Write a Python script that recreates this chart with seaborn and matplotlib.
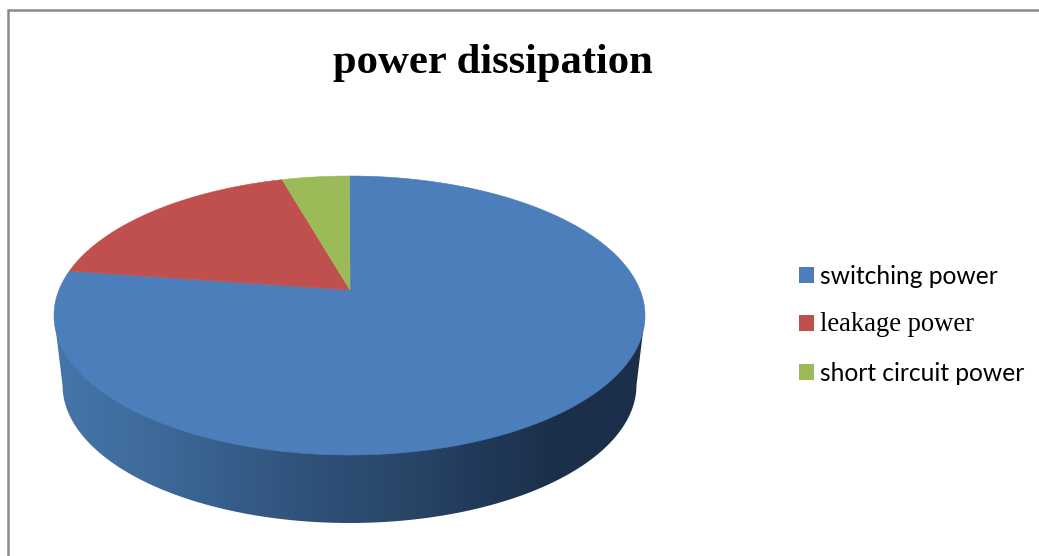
import numpy as np
import matplotlib
matplotlib.use("Agg")
import matplotlib.pyplot as plt
from matplotlib.colors import LinearSegmentedColormap
from matplotlib.patches import Patch, Polygon
import seaborn as sns

# Share of total power per source, clockwise from twelve o'clock
categories = ["switching power", "leakage power", "short circuit power"]
shares = [77.3, 18.3, 4.4]
label_fonts = ["Lato", "Liberation Serif", "Lato"]
label_sizes = [17.7, 19.2, 17.7]
slice_colors = sns.color_palette(["#4c7ebb", "#c0504d", "#9bbb59"])
wall_stops = ["#4775ac", "#3f6c9c", "#375f8c", "#2f5279", "#2a486c", "#213a5a", "#1c2f4a", "#1c2f4a"]
title_text = "power dissipation"

sns.set_theme(style="white")

fig = plt.figure(figsize=(10.39, 5.56), dpi=100)
ax = fig.add_axes([0, 0, 1, 1])
ax.set_xlim(0, 1039)
ax.set_ylim(556, 0)
ax.axis("off")

# Disc geometry in pixel units: top face, lower rim and perspective tilt
top_cx, top_cy, top_rx, top_ry = 349.5, 315.5, 295.5, 139.5
low_cx, low_cy, low_rx, low_ry = 349.5, 385.0, 287.0, 138.0
tilt = 0.183


def project(theta):
    """Map a clockwise angle on the flat disc to the tilted top face."""
    x, y = np.sin(theta), np.cos(theta)
    denom = 1 + tilt * y
    px = x * np.sqrt(1 - tilt ** 2) / denom
    py = (y + tilt) / denom
    return top_cx + top_rx * px, top_cy - top_ry * py


# Side wall: a horizontal shading clipped to the visible rim
t = np.linspace(0, np.pi, 240)
rim_x = low_cx - low_rx * np.cos(t)
rim_y = low_cy + low_ry * np.sin(t)
wall_xy = np.vstack([[top_cx - top_rx, top_cy],
                     np.column_stack([rim_x, rim_y]),
                     [top_cx + top_rx, top_cy]])
wall_patch = Polygon(wall_xy, closed=True, facecolor="none", edgecolor="none")
ax.add_patch(wall_patch)
wall_cmap = LinearSegmentedColormap.from_list("wall", wall_stops)
shade = ax.imshow(np.linspace(0, 1, 512)[None, :], cmap=wall_cmap, aspect="auto",
                  extent=(top_cx - top_rx, top_cx + top_rx, 530, 310), zorder=1)
shade.set_clip_path(wall_patch)
ax.set_xlim(0, 1039)
ax.set_ylim(556, 0)

# Top face, one polygon per slice
apex = (350.0, 290.0)
edges = np.concatenate([[0], np.cumsum(shares)]) / np.sum(shares) * 2 * np.pi
for start, stop, color in zip(edges[:-1], edges[1:], slice_colors):
    theta = np.linspace(start, stop, 300)
    xs, ys = project(theta)
    ax.fill(np.r_[apex[0], xs], np.r_[apex[1], ys], color=color, lw=0.4, zorder=2)

# Chart frame, open on the right and at the bottom
ax.plot([8, 8, 1039], [556, 10, 10], color="#8a8a8a", lw=1.8, zorder=3,
        solid_joinstyle="miter")

ax.text(493, 63, title_text, ha="center", va="center", fontsize=30.7,
        fontweight="bold", family="Liberation Serif", color="black")

handles = [Patch(facecolor=c, edgecolor="none") for c in slice_colors]
legend = ax.legend(handles, categories, loc="upper left",
                   bbox_to_anchor=(799 / 1039, 1 - 265 / 556), frameon=False,
                   fontsize=17.7, borderaxespad=0, borderpad=0, handlelength=0.61,
                   handleheight=0.61, handletextpad=0.26, labelspacing=0.99)
for text, font, size in zip(legend.get_texts(), label_fonts, label_sizes):
    text.set_family(font)
    text.set_fontsize(size)
    text.set_color("black")

fig.savefig("out.png", dpi=100)
